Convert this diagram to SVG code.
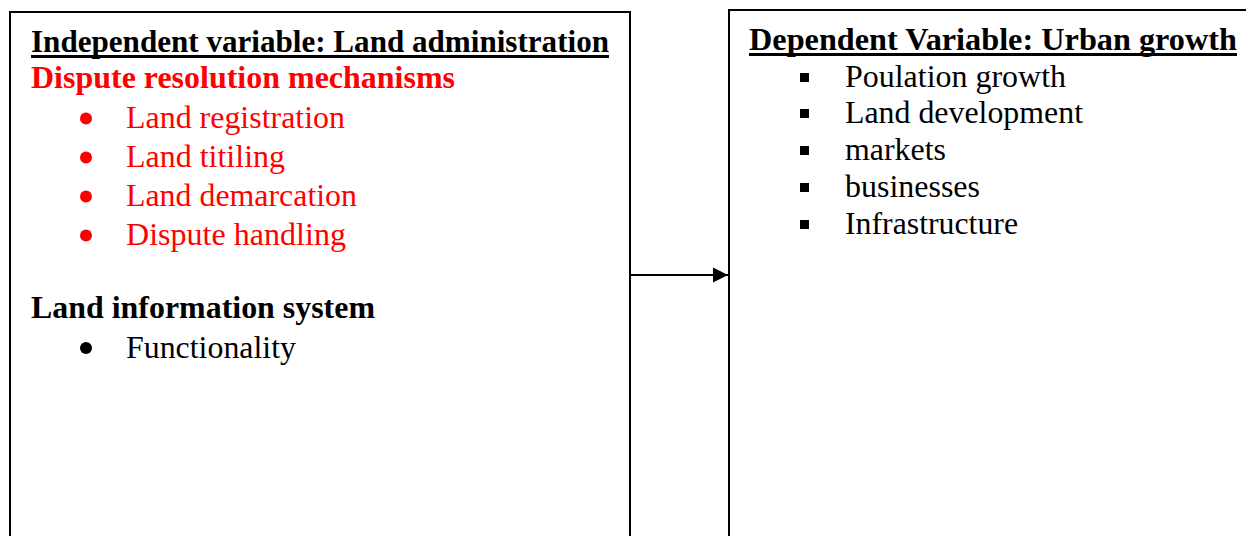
<svg xmlns="http://www.w3.org/2000/svg" width="1246" height="536" viewBox="0 0 1246 536">
<style>
.box{fill:#fff;stroke:#000;stroke-width:2}
.t{font-family:"Liberation Serif","Times New Roman",serif;font-size:31px;fill:#000}
.b{font-weight:bold}
.red{fill:#ff0000}
.conn{stroke:#000;stroke-width:2;fill:none}
</style>
<defs>
<marker id="arr" markerWidth="16" markerHeight="16" refX="15" refY="8" orient="auto" markerUnits="userSpaceOnUse">
<path d="M0,0.5 L15,8 L0,15.5 Z" fill="#000"/>
</marker>
</defs>
<rect width="1246" height="536" fill="#fff"/>
<g id="independent">
<rect class="box" x="10" y="12" width="620" height="560"/>
<text class="t b" x="31" y="52" textLength="578" lengthAdjust="spacingAndGlyphs">Independent variable: Land administration</text>
<rect x="31" y="55" width="578" height="3" fill="#000"/>
<text class="t b red" x="31" y="88" textLength="424" lengthAdjust="spacingAndGlyphs">Dispute resolution mechanisms</text>
<circle cx="86" cy="118.5" r="6" fill="#ff0000"/>
<text class="t red" x="126" y="128" textLength="219" lengthAdjust="spacingAndGlyphs">Land registration</text>
<circle cx="86" cy="157.5" r="6" fill="#ff0000"/>
<text class="t red" x="126" y="167" textLength="159" lengthAdjust="spacingAndGlyphs">Land titiling</text>
<circle cx="86" cy="196.5" r="6" fill="#ff0000"/>
<text class="t red" x="126" y="206" textLength="231" lengthAdjust="spacingAndGlyphs">Land demarcation</text>
<circle cx="86" cy="235.5" r="6" fill="#ff0000"/>
<text class="t red" x="126" y="245" textLength="220" lengthAdjust="spacingAndGlyphs">Dispute handling</text>
<text class="t b" x="31" y="318" textLength="344" lengthAdjust="spacingAndGlyphs">Land information system</text>
<circle cx="86" cy="348" r="6" fill="#000"/>
<text class="t" x="126" y="358" textLength="170" lengthAdjust="spacingAndGlyphs">Functionality</text>
</g>
<g id="dependent">
<rect class="box" x="729" y="10" width="560" height="560"/>
<text class="t b" x="749" y="50" textLength="488" lengthAdjust="spacingAndGlyphs">Dependent Variable: Urban growth</text>
<rect x="749" y="53" width="488" height="3" fill="#000"/>
<rect x="800" y="73" width="9" height="9" fill="#000"/>
<text class="t" x="845" y="87" textLength="221" lengthAdjust="spacingAndGlyphs">Poulation growth</text>
<rect x="800" y="109" width="9" height="9" fill="#000"/>
<text class="t" x="845" y="123" textLength="238" lengthAdjust="spacingAndGlyphs">Land development</text>
<rect x="800" y="146" width="9" height="9" fill="#000"/>
<text class="t" x="845" y="160" textLength="101" lengthAdjust="spacingAndGlyphs">markets</text>
<rect x="800" y="183" width="9" height="9" fill="#000"/>
<text class="t" x="845" y="197" textLength="135" lengthAdjust="spacingAndGlyphs">businesses</text>
<rect x="800" y="220" width="9" height="9" fill="#000"/>
<text class="t" x="845" y="234" textLength="173" lengthAdjust="spacingAndGlyphs">Infrastructure</text>
</g>
<g id="connectors">
<line class="conn" x1="631" y1="275" x2="728" y2="275" marker-end="url(#arr)"/>
</g>
</svg>
